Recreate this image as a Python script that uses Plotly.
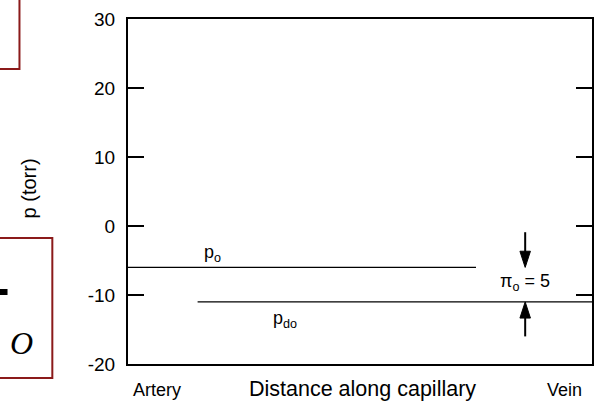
import plotly.graph_objects as go

# ---- data ----
y_ticks = [-20, -10, 0, 10, 20, 30]
y_tick_labels = ["-20", "-10", "0", "10", "20", "30"]

po_x = [0, 75]          # distance along capillary (% of length)
po_y = [-6, -6]         # p_o (torr)
pdo_x = [15, 100]
pdo_y = [-11, -11]      # p_do (torr)

pi_o = 5
arrow_x = [85.6, 85.6]
arrow_down_y = [-0.9, -6]
arrow_up_y = [-16, -11]
x_end_labels = ["Artery", "Vein"]
x_title = "Distance along capillary"
y_title = "p (torr)"

W, H = 600, 401
L, R, T, B = 128, 6, 19, 37
PW, PH = W - L - R, H - T - B


def px(x):
    return (x - L) / PW


def py(y):
    return (H - B - y) / PH


fig = go.Figure()
fig.add_trace(go.Scatter(x=po_x, y=po_y, mode="lines",
                         line=dict(color="black", width=1.4), hoverinfo="skip"))
fig.add_trace(go.Scatter(x=pdo_x, y=pdo_y, mode="lines",
                         line=dict(color="black", width=1.4), hoverinfo="skip"))
for ys in (arrow_down_y, arrow_up_y):
    fig.add_trace(go.Scatter(
        x=arrow_x, y=ys, mode="lines+markers",
        line=dict(color="black", width=2),
        marker=dict(symbol="arrow", size=[0, 17], angleref="previous", color="black",
                    opacity=1, line=dict(width=1, color="black")),
        hoverinfo="skip"))

font = dict(family="Liberation Sans, Arial, sans-serif", color="black")


def label(x, y, text, size, **kw):
    d = dict(x=px(x), y=py(y), xref="paper", yref="paper", showarrow=False,
             xanchor="center", yanchor="middle", text=text,
             font=kw.pop("font", dict(size=size, **font)))
    d.update(kw)
    return d


ann = [
    label(213, 253, "p<sub>o</sub>", 18),
    label(286, 319, "p<sub>do</sub>", 18),
    label(527, 282, f"π<sub>o</sub> = {pi_o}", 18),
    label(157, 390, x_end_labels[0], 18),
    label(566, 390, x_end_labels[1], 18),
    label(364, 389, x_title, 21.5),
    label(29, 188, y_title, 20, textangle=-90),
    label(21, 343, "O", 32, font=dict(size=32, family="Liberation Serif, Times New Roman, serif",
                                      color="black", style="italic")),
]

red = "#8b1a1a"
shapes = [
    dict(type="rect", xref="paper", yref="paper", x0=px(-10), x1=px(19), y0=py(69), y1=py(-10),
         line=dict(color=red, width=2)),
    dict(type="rect", xref="paper", yref="paper", x0=px(-10), x1=px(52), y0=py(378), y1=py(238),
         line=dict(color=red, width=2)),
    dict(type="rect", xref="paper", yref="paper", x0=px(-2), x1=px(7), y0=py(295), y1=py(289),
         line=dict(width=0), fillcolor="black"),
]

fig.update_layout(
    width=W, height=H,
    margin=dict(l=L, r=R, t=T, b=B),
    paper_bgcolor="white", plot_bgcolor="white",
    showlegend=False,
    annotations=ann, shapes=shapes,
    xaxis=dict(range=[0, 100], showgrid=False, zeroline=False, showticklabels=False,
               ticks="", showline=True, linecolor="black", linewidth=2, mirror=True),
    yaxis=dict(range=[-20, 30], tickvals=y_ticks, ticktext=y_tick_labels,
               showgrid=False, zeroline=False, ticks="inside", ticklen=16, tickwidth=2,
               tickcolor="black", showline=True, linecolor="black", linewidth=2,
               mirror="ticks", ticklabelstandoff=7,
               tickfont=dict(size=19, **font)),
)

fig.write_html("out.html",
               config={"displayModeBar": False},
               post_script="document.body.style.margin='0';document.body.style.overflow='hidden';")
